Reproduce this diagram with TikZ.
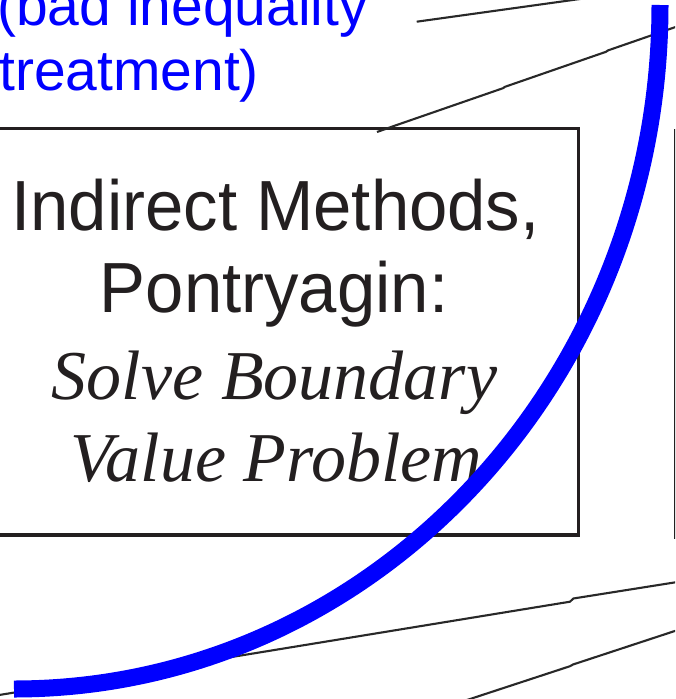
\documentclass[tikz,border=0pt]{standalone}
\usepackage{fontspec}
\setmainfont{Liberation Serif}
\setsansfont{Liberation Sans}
\newfontfamily\boxsans[FakeStretch=0.97]{Liberation Sans}
\definecolor{ink}{RGB}{35,31,32}
\definecolor{wireink}{RGB}{40,40,40}
\definecolor{pureblue}{RGB}{0,0,255}
\begin{document}
\begin{tikzpicture}[x=1pt,y=-1pt,
  frame/.style={draw=ink, line width=3.8pt, inner sep=0pt, fill=none},
  wire/.style={draw=wireink, line width=2.1pt, line join=round},
  bigarc/.style={draw=pureblue, line width=17pt, line cap=butt},
  sanslbl/.style={font=\boxsans\fontsize{71}{71}\selectfont, text=ink, inner sep=0pt, anchor=base},
  itallbl/.style={font=\rmfamily\itshape\fontsize{70}{70}\selectfont, text=ink, inner sep=0pt, anchor=base},
  bluelbl/.style={font=\sffamily\fontsize{57}{57}\selectfont, text=pureblue, inner sep=0pt, anchor=base west}]
\useasboundingbox (0,0) rectangle (675,699);
\clip (0,0) rectangle (675,699);
\fill[white] (0,0) rectangle (675,699);

% boxes
\node[frame, minimum width=607pt, minimum height=406.5pt] (box) at (275,331.75) {};
\node[frame, minimum width=100pt, minimum height=406.5pt, anchor=north west] (rbox) at (674,128.5) {};

% box text
\node[sanslbl] (t1) at (275.5,230) {Indirect Methods,};
\node[sanslbl] (t2) at (274,312.7) {Pontryagin:};
\node[itallbl] (t3) at (274.5,399.3) {Solve Boundary};
\node[itallbl] (t4) at (276.5,481.7) {Value Problem};

% blue annotation
\node[bluelbl] (b1) at (-3,25) {(bad inequality};
\node[bluelbl] (b2) at (-1,90.7) {treatment)};

% wires (free ends as named coordinates)
\coordinate (w1a) at (416.7,21.7);
\coordinate (w1b) at (600,-3.8);
\draw[wire] (w1a) -- (w1b);

\coordinate (w2a) at (377,132);
\coordinate (w2b) at (393,126.3);
\coordinate (w2c) at (690,22);
\draw[wire] (w2a) -- (w2b) -- (503,88.2) -- (505,86.8) -- (606,51.8) -- (608,50.4) -- (w2c);

\coordinate (w3a) at (-10,696.5);
\coordinate (w3b) at (690,580);
\draw[wire] (w3a) -- (570,601.7) -- (573.3,598.5) -- (w3b);

\coordinate (w4a) at (460,702.3);
\coordinate (w4b) at (690,626);
\draw[wire] (w4a) -- (570,666.2) -- (573,664.5) -- (w4b);

% blue arc
\coordinate (arcstart) at (660,5);
\draw[bigarc] (arcstart) arc[start angle=0, end angle=-90, x radius=646pt, y radius=684pt];
\end{tikzpicture}
\end{document}
